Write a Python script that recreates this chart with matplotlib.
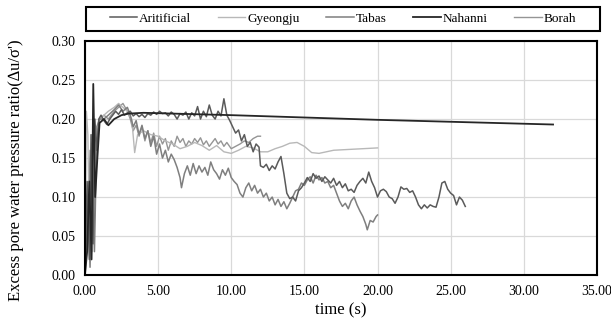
import matplotlib
matplotlib.use("Agg")
import matplotlib.pyplot as plt
from matplotlib.ticker import FormatStrFormatter
from matplotlib.patches import Rectangle

plt.rcParams['font.family'] = ['Liberation Serif', 'DejaVu Serif']

series_names = ["Aritificial", "Gyeongju", "Tabas", "Nahanni", "Borah"]

art_t = [0, 0.15, 0.3, 0.42, 0.55, 0.68, 0.8, 0.95, 1.1, 1.3,
         1.5, 1.7, 1.9, 2.1, 2.3, 2.5, 2.7, 2.9, 3.1, 3.3,
         3.5, 3.7, 3.9, 4.1, 4.3, 4.5, 4.7, 4.9, 5.1, 5.3,
         5.5, 5.7, 5.9, 6.1, 6.3, 6.5, 6.7, 6.9, 7.1, 7.3,
         7.5, 7.7, 7.9, 8.1, 8.3, 8.5, 8.7, 8.9, 9.1, 9.3,
         9.5, 9.7, 9.9, 10.1, 10.3, 10.5, 10.7, 10.9, 11.1, 11.3,
         11.5, 11.7, 11.9, 12.0, 12.2, 12.4, 12.6, 12.8, 13.0, 13.2,
         13.4, 13.6, 13.8, 14.0, 14.2, 14.4, 14.6, 14.8, 15.0, 15.2,
         15.4, 15.6, 15.8, 16.0, 16.2, 16.4, 16.6, 16.8, 17.0, 17.2,
         17.4, 17.6, 17.8, 18.0, 18.2, 18.4, 18.6, 18.8, 19.0, 19.2,
         19.4, 19.6, 19.8, 20.0, 20.2, 20.4, 20.6, 20.8, 21.0, 21.2,
         21.4, 21.6, 21.8, 22.0, 22.2, 22.4, 22.6, 22.8, 23.0, 23.2,
         23.4, 23.6, 23.8, 24.0, 24.2, 24.4, 24.6, 24.8, 25.0, 25.2,
         25.4, 25.6, 25.8, 26.0]
art_y = [0.0, 0.12, 0.02, 0.18, 0.04, 0.2, 0.16, 0.2, 0.205, 0.198,
         0.193, 0.2, 0.205, 0.21, 0.206, 0.212, 0.205, 0.208, 0.21, 0.204,
         0.207, 0.203, 0.206, 0.202, 0.207, 0.205, 0.209, 0.206, 0.21, 0.207,
         0.208, 0.204, 0.209, 0.206, 0.2, 0.207, 0.205, 0.209, 0.2, 0.208,
         0.204, 0.216, 0.2, 0.21, 0.203, 0.218, 0.205, 0.2, 0.21, 0.204,
         0.226, 0.205, 0.198, 0.19, 0.182, 0.186, 0.172, 0.18, 0.165, 0.17,
         0.158, 0.168, 0.164, 0.14, 0.138, 0.142, 0.134, 0.14, 0.136, 0.145,
         0.152, 0.13, 0.105, 0.098, 0.1, 0.095, 0.108, 0.112, 0.118, 0.125,
         0.12, 0.13, 0.124, 0.127, 0.12, 0.126, 0.122, 0.118, 0.124, 0.115,
         0.12, 0.112, 0.117, 0.108, 0.11, 0.106, 0.115, 0.12, 0.124, 0.118,
         0.132, 0.12, 0.112, 0.1, 0.108, 0.11, 0.107, 0.1, 0.098, 0.092,
         0.1, 0.113, 0.11, 0.111, 0.106, 0.108, 0.1, 0.09, 0.085, 0.09,
         0.086, 0.09, 0.088, 0.087, 0.1, 0.118, 0.12, 0.11, 0.105, 0.102,
         0.09, 0.1, 0.096, 0.088]

gy_t = [0, 0.1, 0.2, 0.3, 0.45, 0.6, 0.8, 1.0, 1.3, 1.6,
        2.0, 2.3, 2.6, 2.9, 3.2, 3.4, 3.6, 4.0, 4.5, 5.0,
        5.5, 6.0, 6.5, 7.0, 7.5, 8.0, 8.5, 9.0, 9.5, 10.0,
        10.5, 11.0, 11.5, 12.0, 12.5, 13.0, 13.5, 14.0, 14.5, 15.0,
        15.5, 16.0, 16.5, 17.0, 18.0, 19.0, 20.0]
gy_y = [0.0, 0.21, 0.18, 0.06, 0.02, 0.08, 0.17, 0.2, 0.205, 0.21,
        0.215, 0.22, 0.215, 0.21, 0.2, 0.157, 0.18, 0.185, 0.18, 0.178,
        0.172, 0.168, 0.162, 0.165, 0.17, 0.166, 0.16, 0.166, 0.158, 0.156,
        0.16, 0.165, 0.163, 0.158, 0.158, 0.162, 0.165, 0.169, 0.17, 0.165,
        0.157, 0.156, 0.158, 0.16, 0.161, 0.162, 0.163]

tab_t = [0, 0.2, 0.35, 0.5, 0.65, 0.8, 1.0, 1.3, 1.6, 2.0,
         2.3, 2.6, 2.9, 3.1, 3.3, 3.5, 3.7, 3.9, 4.1, 4.3,
         4.5, 4.7, 4.9, 5.1, 5.3, 5.5, 5.7, 5.9, 6.1, 6.3,
         6.5, 6.6, 6.8, 7.0, 7.2, 7.4, 7.6, 7.8, 8.0, 8.2,
         8.4, 8.6, 8.8, 9.0, 9.2, 9.4, 9.6, 9.8, 10.0, 10.2,
         10.4, 10.6, 10.8, 11.0, 11.2, 11.4, 11.6, 11.8, 12.0, 12.2,
         12.4, 12.6, 12.8, 13.0, 13.2, 13.4, 13.6, 13.8, 14.0, 14.2,
         14.4, 14.6, 14.8, 15.0, 15.2, 15.4, 15.6, 15.8, 16.0, 16.2,
         16.4, 16.6, 16.8, 17.0, 17.2, 17.4, 17.6, 17.8, 18.0, 18.2,
         18.4, 18.6, 18.8, 19.0, 19.2, 19.3, 19.5, 19.7, 19.9, 20.0]
tab_y = [0.0, 0.1, 0.01, 0.16, 0.03, 0.17, 0.2, 0.2, 0.205, 0.212,
         0.218, 0.21, 0.215, 0.205, 0.19, 0.198, 0.18, 0.192, 0.175, 0.185,
         0.165, 0.178, 0.155, 0.168, 0.15, 0.16, 0.145, 0.155, 0.148, 0.138,
         0.125, 0.112, 0.13, 0.14, 0.128, 0.143, 0.13, 0.14, 0.132, 0.138,
         0.128, 0.145, 0.135, 0.13, 0.123, 0.135, 0.128, 0.137, 0.125, 0.12,
         0.116, 0.105, 0.1, 0.112, 0.118, 0.108, 0.115, 0.105, 0.11, 0.1,
         0.105, 0.095, 0.1, 0.09, 0.097, 0.088, 0.094, 0.085, 0.092, 0.1,
         0.108, 0.11, 0.118, 0.115, 0.122, 0.126, 0.118, 0.128, 0.122, 0.125,
         0.118, 0.12, 0.112, 0.115, 0.105, 0.095, 0.088, 0.092, 0.085, 0.095,
         0.1, 0.09, 0.082, 0.075, 0.065, 0.058, 0.07, 0.068, 0.075, 0.077]

nah_t = [0, 0.15, 0.3, 0.45, 0.57, 0.7, 0.85, 1.0, 1.3, 1.6,
         2.0, 2.5, 3.0, 4.0, 6.0, 8.0, 10.0, 20.0, 32.0]
nah_y = [0.0, 0.03, 0.12, 0.02, 0.245, 0.1, 0.15, 0.195, 0.2, 0.192,
         0.2, 0.205, 0.207, 0.208, 0.207, 0.206, 0.205, 0.199, 0.193]

bor_t = [0, 0.2, 0.35, 0.5, 0.65, 0.8, 1.0, 1.3, 1.6, 2.0,
         2.3, 2.6, 2.9, 3.1, 3.3, 3.5, 3.7, 3.9, 4.1, 4.3,
         4.5, 4.7, 4.9, 5.1, 5.3, 5.5, 5.7, 5.9, 6.1, 6.3,
         6.5, 6.7, 6.9, 7.1, 7.3, 7.5, 7.7, 7.9, 8.1, 8.3,
         8.5, 8.7, 8.9, 9.1, 9.3, 9.5, 9.7, 10.0, 10.3, 10.6,
         10.9, 11.2, 11.5, 11.8, 12.0]
bor_y = [0.0, 0.05, 0.16, 0.03, 0.12, 0.19, 0.2, 0.205, 0.2, 0.21,
         0.215, 0.22, 0.21, 0.2, 0.185, 0.192, 0.178, 0.19, 0.172, 0.185,
         0.17, 0.182, 0.165, 0.178, 0.168, 0.175, 0.16, 0.172, 0.165, 0.178,
         0.17, 0.175, 0.165, 0.172, 0.168, 0.175, 0.17, 0.176, 0.167, 0.172,
         0.165, 0.17, 0.175, 0.168, 0.172, 0.165, 0.17, 0.162, 0.165, 0.168,
         0.172, 0.17, 0.175, 0.178, 0.178]

x_ticks = [0, 5, 10, 15, 20, 25, 30, 35]
y_ticks = [0.0, 0.05, 0.10, 0.15, 0.20, 0.25, 0.30]

W, H = 611, 331
fig = plt.figure(figsize=(W / 100, H / 100), dpi=100)
ax = fig.add_axes([0.139, 0.169, 0.838, 0.707])

data = [(art_t, art_y, '#5a5a5a', 1.1),
        (gy_t, gy_y, '#b8b8b8', 1.0),
        (tab_t, tab_y, '#7f7f7f', 1.1),
        (nah_t, nah_y, '#262626', 1.3),
        (bor_t, bor_y, '#959595', 1.0)]
order = [4, 1, 2, 0, 3]
lines = {}
for i in order:
    t, y, c, lw = data[i]
    ln, = ax.plot(t, y, color=c, lw=lw, label=series_names[i])
    lines[i] = ln

ax.set_xlim(0, 35)
ax.set_ylim(0, 0.30)
ax.set_xticks(x_ticks)
ax.set_yticks(y_ticks)
ax.xaxis.set_major_formatter(FormatStrFormatter('%.2f'))
ax.yaxis.set_major_formatter(FormatStrFormatter('%.2f'))
ax.tick_params(length=0, labelsize=10)
ax.tick_params(axis='y', pad=7)
ax.tick_params(axis='x', pad=7)
ax.grid(True, color='#d9d9d9', lw=0.9)
ax.set_axisbelow(True)
for s in ax.spines.values():
    s.set_linewidth(1.5)
    s.set_color('black')

ax.set_xlabel('time (s)', fontsize=12, labelpad=3)
fig.text(0.026, 0.485, "Excess pore water pressure ratio(\u2206u/\u03c3')",
         rotation=90, ha='center', va='center', fontsize=12)

# legend frame
fx0, fx1, fy0, fy1 = 86, 600, 7, 31
fig.patches.append(Rectangle((fx0 / W, 1 - fy1 / H), (fx1 - fx0) / W, (fy1 - fy0) / H,
                             transform=fig.transFigure, fill=False,
                             edgecolor='black', lw=1.5))
handles = [lines[i] for i in range(5)]
leg = fig.legend(handles, series_names, loc='center',
                 bbox_to_anchor=((fx0 + fx1) / 2 / W, 1 - (fy0 + fy1) / 2 / H),
                 ncol=5, frameon=False, fontsize=9.5, handlelength=2.1,
                 handletextpad=0.15, columnspacing=2.0, borderpad=0)

fig.savefig('out.png', dpi=100)
